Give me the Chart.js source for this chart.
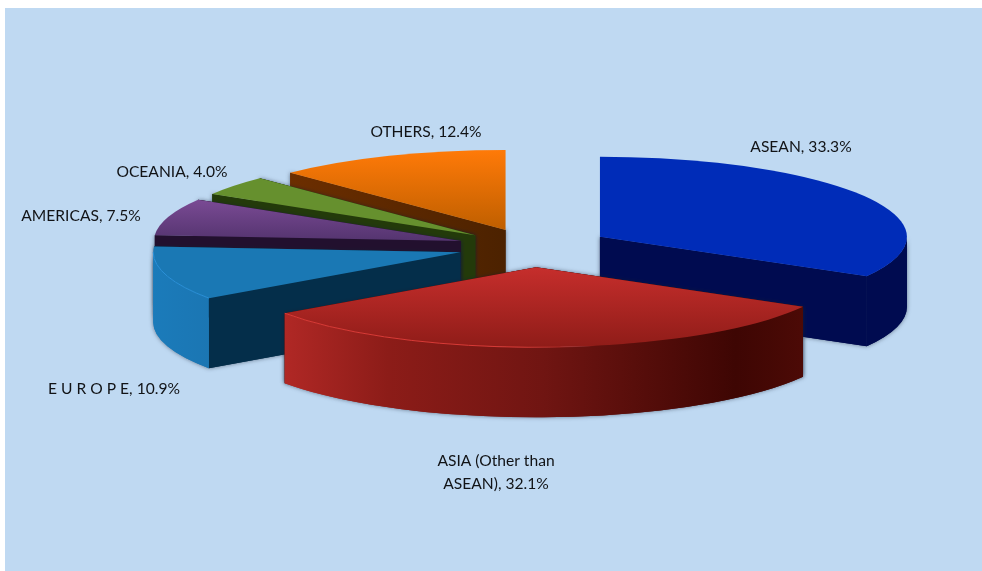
<!DOCTYPE html>
<html>
<head>
<meta charset="utf-8">
<style>
  html, body { margin: 0; padding: 0; background: #fff; overflow: hidden; }
  #panel { position: absolute; left: 5px; top: 8px; width: 977px; height: 563px; background: #bfd9f2; }
  #pieChart { position: absolute; left: 0; top: 0; }
</style>
</head>
<body>
<div id="panel"></div>
<canvas id="pieChart" width="982" height="571"></canvas>
<script src="https://cdn.jsdelivr.net/npm/chart.js@4/dist/chart.umd.min.js"></script>
<script>
// data
const categories = ["ASEAN", "ASIA (Other than ASEAN)", "E U R O P E", "AMERICAS", "OCEANIA", "OTHERS"];
const shares = [33.3, 32.1, 10.9, 7.5, 4.0, 12.4];

// colors for each slice: top face from/to, flat wall from/to, curved wall stops
const topFrom = ["#002cb8", "#c62e2c", "#1a78b4", "#7a4a94", "#66902e", "#ff7a08"];
const topTo = ["#002cb8", "#8f1c18", "#1a78b4", "#54346f", "#66902e", "#bf5f00"];
const wallFrom = ["#000b50", "#4a0a06", "#042e4a", "#22102e", "#233a0a", "#6c2e00"];
const wallTo = ["#000b50", "#4a0a06", "#042e4a", "#22102e", "#233a0a", "#4c2200"];
const curveStops = [
    [[0, "#000b50"], [1, "#000b50"]],
    [[0, "#b02825"], [0.2, "#8c1c18"], [0.5, "#701512"], [0.87, "#3e0603"], [1, "#4c0a06"]],
    [[0, "#1b7bba"], [1, "#1b76b3"]],
    [[0, "#22102e"], [1, "#22102e"]],
    [[0, "#233a0a"], [1, "#233a0a"]],
    [[0, "#6c2e00"], [1, "#4c2200"]]
];
const rimColors = [null, "rgba(216,58,54,", "rgba(42,144,216,", null, null, null];
const rimFade = [1, 0.45, 1, 1, 1, 1];

// painter order, back to front
const drawOrder = [5, 4, 3, 2, 0, 1];

// layout of the tilted pie
const pieRx = 307;
const pieRy = 80;
const pieDepth = 70;
const explode = [78, 78, 75, 75, 73, 71];

// label centres, same order as categories
const labelSpots = [[801, 147], [496, 472], [114, 389], [81, 216], [172, 172], [426, 132]];
const labelFont = "15.6px Lato";
const labelWrap = 165;

function sliceGeometry(arc, i) {
    const { x, y, startAngle, endAngle } = arc.getProps(["x", "y", "startAngle", "endAngle"], true);
    const mid = (startAngle + endAngle) / 2;
    return {
        ax: x + Math.cos(mid) * explode[i],
        ay: y + Math.sin(mid) * explode[i] * pieRy / pieRx,
        start: startAngle,
        end: endAngle
    };
}

function rimPoint(g, t) {
    return [g.ax + pieRx * Math.cos(t), g.ay + pieRy * Math.sin(t)];
}

function fillWall(ctx, g, t, fill) {
    const [px, py] = rimPoint(g, t);
    ctx.beginPath();
    ctx.moveTo(g.ax, g.ay);
    ctx.lineTo(px, py);
    ctx.lineTo(px, py + pieDepth);
    ctx.lineTo(g.ax, g.ay + pieDepth);
    ctx.closePath();
    ctx.fillStyle = fill;
    ctx.fill();
}

function drawBody(ctx, g, i, from, to) {
    const [sx] = rimPoint(g, g.start);
    const [ex] = rimPoint(g, g.end);

    // flat walls
    const wallGrad = ctx.createLinearGradient(Math.min(sx, ex, g.ax), 0, Math.max(sx, ex, g.ax), 0);
    wallGrad.addColorStop(0, wallFrom[i]);
    wallGrad.addColorStop(1, wallTo[i]);
    fillWall(ctx, g, g.start, wallGrad);
    fillWall(ctx, g, g.end, wallGrad);

    // curved outer wall, only the part facing us (0..PI in canvas angles)
    if (to > from) {
        const [fx] = rimPoint(g, from);
        const [tx] = rimPoint(g, to);
        const grad = ctx.createLinearGradient(tx, 0, fx, 0);
        curveStops[i].forEach(([pos, c]) => grad.addColorStop(pos, c));
        ctx.beginPath();
        ctx.ellipse(g.ax, g.ay, pieRx, pieRy, 0, from, to);
        ctx.ellipse(g.ax, g.ay + pieDepth, pieRx, pieRy, 0, to, from, true);
        ctx.closePath();
        ctx.fillStyle = grad;
        ctx.fill();
    }
}

function drawSlice(ctx, arc, i) {
    const g = sliceGeometry(arc, i);
    const [, sy] = rimPoint(g, g.start);
    const [, ey] = rimPoint(g, g.end);
    const from = Math.max(g.start, 0);
    const to = Math.min(g.end, Math.PI);

    // once with the soft shadow, once clean so no seams show
    ctx.save();
    ctx.shadowColor = "rgba(20,30,50,0.55)";
    ctx.shadowBlur = 4;
    drawBody(ctx, g, i, from, to);
    ctx.restore();
    drawBody(ctx, g, i, from, to);

    // top face
    const tops = [g.ay, sy, ey];
    if (g.start < -Math.PI / 2 && g.end > -Math.PI / 2) tops.push(g.ay - pieRy);
    if (g.end >= Math.PI / 2 && g.start <= Math.PI / 2) tops.push(g.ay + pieRy);
    const topGrad = ctx.createLinearGradient(0, Math.min(...tops), 0, Math.max(...tops));
    topGrad.addColorStop(0, topFrom[i]);
    topGrad.addColorStop(1, topTo[i]);
    ctx.beginPath();
    ctx.moveTo(g.ax, g.ay);
    ctx.ellipse(g.ax, g.ay, pieRx, pieRy, 0, g.start, g.end);
    ctx.closePath();
    ctx.fillStyle = topGrad;
    ctx.fill();

    // light line along the front rim, fades out to the right
    if (rimColors[i] && to > from) {
        const [fx] = rimPoint(g, from);
        const [tx] = rimPoint(g, to);
        const rim = ctx.createLinearGradient(tx, 0, fx, 0);
        rim.addColorStop(0, rimColors[i] + "1)");
        rim.addColorStop(rimFade[i], rimColors[i] + "1)");
        if (rimFade[i] < 1) rim.addColorStop(rimFade[i] + 0.15, rimColors[i] + "0)");
        ctx.beginPath();
        ctx.ellipse(g.ax, g.ay, pieRx, pieRy, 0, from, to);
        ctx.strokeStyle = rim;
        ctx.lineWidth = 1;
        ctx.stroke();
    }
}

function wrapLabel(ctx, text) {
    const lines = [];
    let line = "";
    text.split(" ").forEach((word) => {
        const next = line ? line + " " + word : word;
        if (ctx.measureText(next).width > labelWrap && line) {
            lines.push(line);
            line = word;
        } else {
            line = next;
        }
    });
    lines.push(line);
    return lines;
}

const tiltedPie = {
    id: "tiltedPie",
    beforeDatasetsDraw(chart) {
        const ctx = chart.ctx;
        const arcs = chart.getDatasetMeta(0).data;
        drawOrder.forEach((i) => drawSlice(ctx, arcs[i], i));

        // data labels
        ctx.save();
        ctx.font = labelFont;
        ctx.fillStyle = "#111316";
        ctx.textAlign = "center";
        ctx.textBaseline = "middle";
        categories.forEach((name, i) => {
            const lines = wrapLabel(ctx, name + ", " + shares[i].toFixed(1) + "%");
            const [lx, ly] = labelSpots[i];
            lines.forEach((l, n) => ctx.fillText(l, lx, ly + (n - (lines.length - 1) / 2) * 23));
        });
        ctx.restore();
        return false; // slices are already painted
    }
};

new Chart(document.getElementById("pieChart").getContext("2d"), {
    type: "pie",
    data: {
        labels: categories,
        datasets: [{ data: shares, borderWidth: 0 }]
    },
    options: {
        responsive: false,
        animation: false,
        layout: { padding: { left: 83, bottom: 77 } },
        plugins: { legend: { display: false }, tooltip: { enabled: false } }
    },
    plugins: [tiltedPie]
});
</script>
</body>
</html>
